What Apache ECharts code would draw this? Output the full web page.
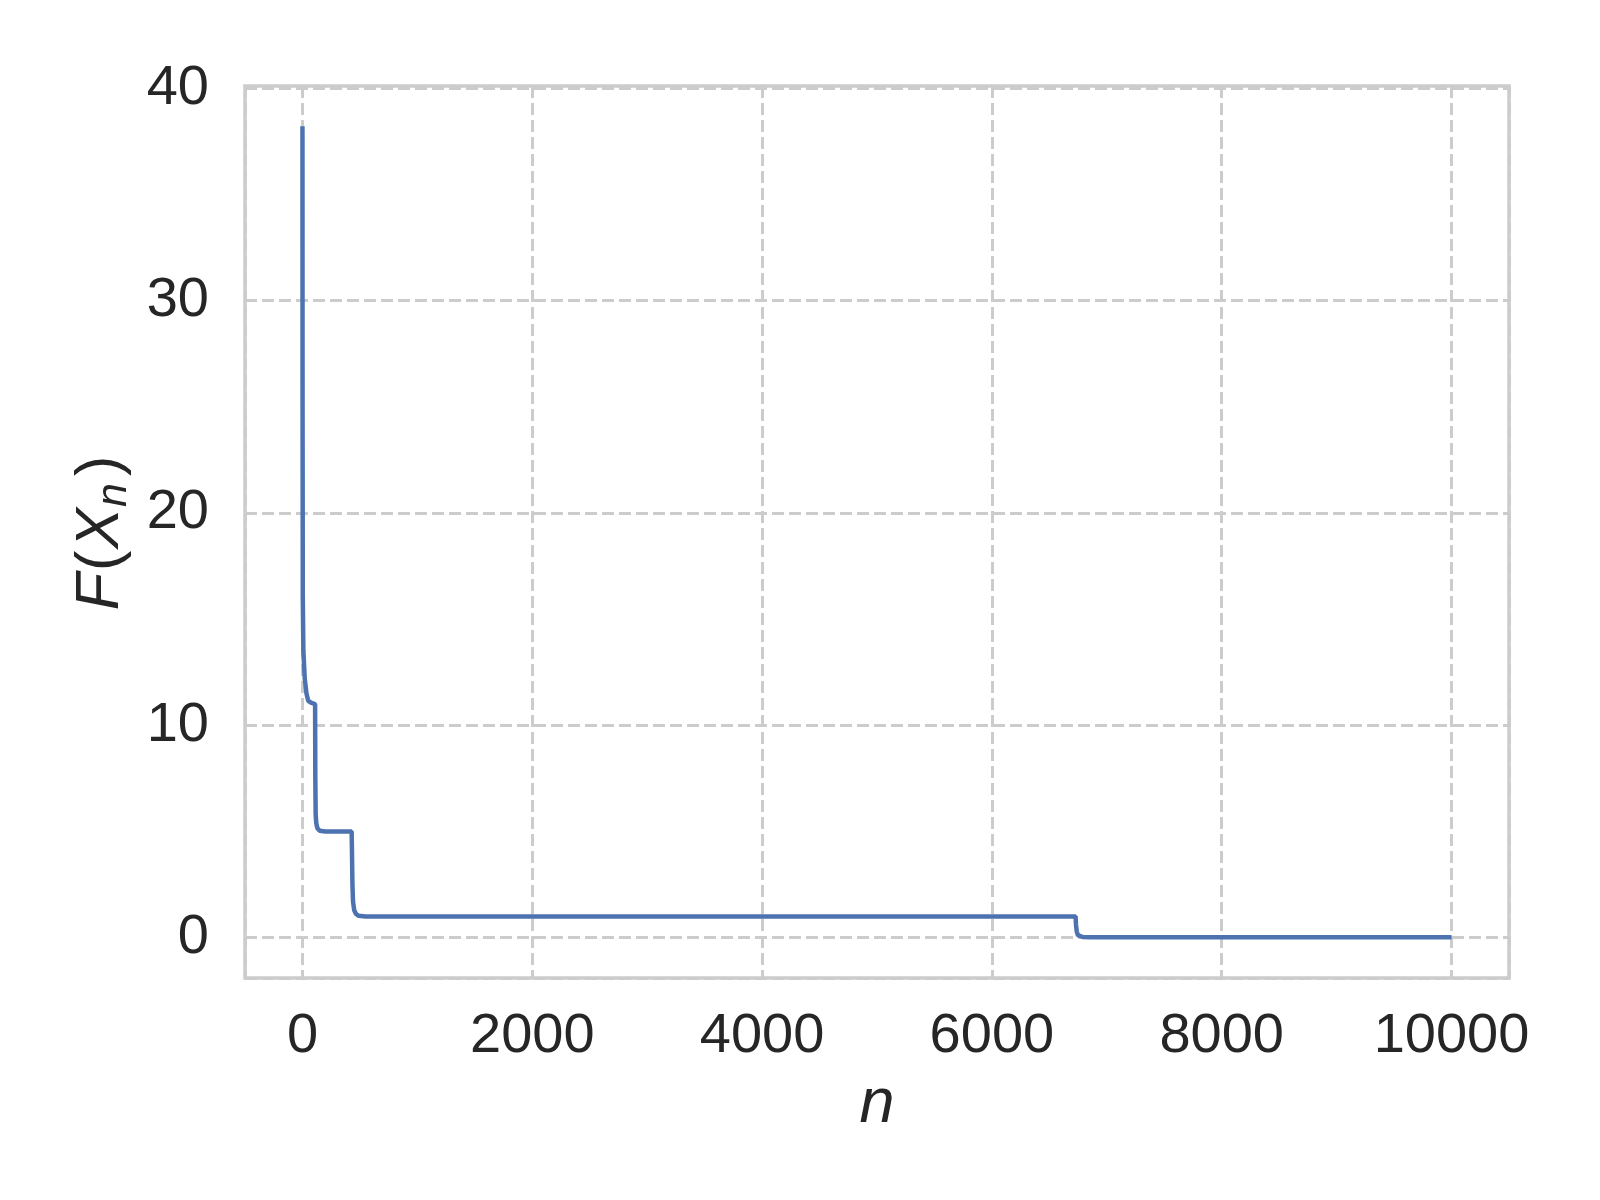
<!DOCTYPE html>
<html>
<head>
<meta charset="utf-8">
<script src="https://cdn.jsdelivr.net/npm/echarts@6/dist/echarts.min.js"></script>
<style>
  html, body { margin: 0; padding: 0; background: #fff; }
  #chart { width: 1600px; height: 1200px; }
</style>
</head>
<body>
<div id="chart"></div>
<script>
// iteration n and objective value F(X_n)
const nValues = [0, 1, 3, 8, 20, 35, 50, 80, 110, 112, 115, 120, 130, 150, 200,
  428, 431, 435, 440, 450, 465, 490, 550, 6728, 6732, 6738, 6748, 6762, 6790, 6850, 10000]
const fValues = [38.2, 25, 16, 13.5, 12.2, 11.5, 11.15, 11.05, 11.0, 7.5, 5.8, 5.4, 5.15, 5.03, 5.0,
  5.0, 4.0, 2.5, 1.7, 1.3, 1.12, 1.03, 1.0, 1.0, 0.6, 0.3, 0.12, 0.05, 0.03, 0.02, 0.02]

const xTickStep = 2000
const yTickStep = 10

const textColor = '#262626'
const gridColor = '#cccccc'
const font = 'Liberation Sans'

const chart = echarts.init(document.getElementById('chart'))

chart.setOption({
  backgroundColor: '#ffffff',
  animation: false,
  grid: {
    left: 245, right: 91, top: 86, bottom: 222,
    show: true,
    borderColor: gridColor,
    borderWidth: 3.5,
    backgroundColor: 'transparent'
  },
  xAxis: {
    type: 'value',
    min: -500,
    max: 10500,
    axisLine: { show: false },
    axisTick: { show: false },
    axisLabel: {
      color: textColor, fontSize: 56, fontFamily: font, margin: 31,
      formatter: v => (v % xTickStep === 0 ? String(v) : '')
    },
    splitLine: { lineStyle: { color: gridColor, width: 3, type: [12, 5] } },
    name: 'n',
    nameLocation: 'middle',
    nameGap: 95,
    nameTextStyle: { color: textColor, fontSize: 63, fontFamily: font, fontStyle: 'italic' }
  },
  yAxis: {
    type: 'value',
    min: -1.9,
    max: 40.1,
    axisLine: { show: false },
    axisTick: { show: false },
    axisLabel: {
      color: textColor, fontSize: 56, fontFamily: font, margin: 36,
      formatter: v => (Math.abs(v % yTickStep) < 1e-9 ? String(v) : '')
    },
    splitLine: { lineStyle: { color: gridColor, width: 3, type: [12, 5] } },
    name: '{it|F}{up|(}{it|X}{sub|n}{up|)}',
    nameLocation: 'middle',
    nameGap: 108,
    nameTextStyle: {
      color: textColor, fontSize: 61, fontFamily: font,
      rich: {
        it: { fontSize: 61, fontStyle: 'italic', fontFamily: font, color: textColor },
        up: { fontSize: 61, fontFamily: font, color: textColor, padding: [0, 2, 0, 2] },
        sub: { fontSize: 43, fontStyle: 'italic', fontFamily: font, color: textColor, padding: [26, 5, 0, 1] }
      }
    }
  },
  series: [{
    type: 'line',
    data: nValues.map((n, i) => [n, fValues[i]]),
    showSymbol: false,
    lineStyle: { color: '#4c72b0', width: 4.5 },
    itemStyle: { color: '#4c72b0' }
  }]
})
</script>
</body>
</html>
